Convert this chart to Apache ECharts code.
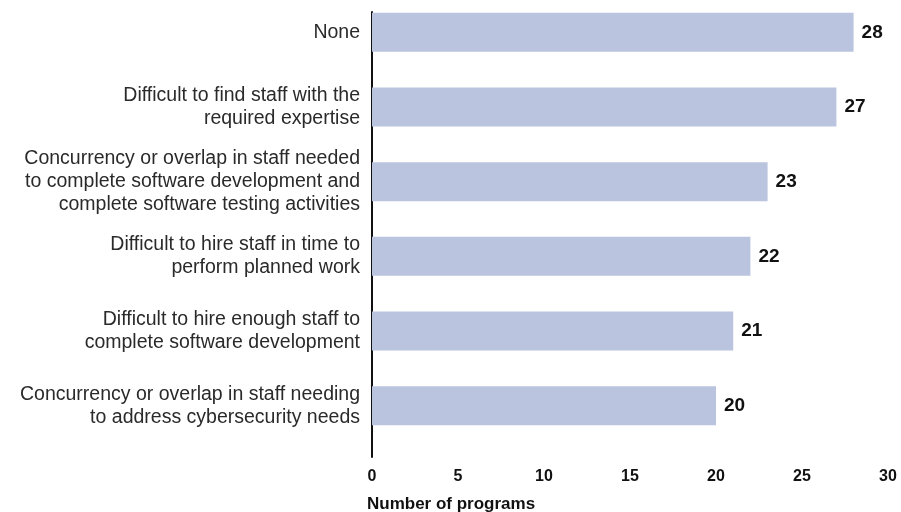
<!DOCTYPE html>
<html>
<head>
<meta charset="utf-8">
<script src="https://cdn.jsdelivr.net/npm/echarts@6/dist/echarts.min.js"></script>
<style>
html,body{margin:0;padding:0;background:#fff;overflow:hidden;}
#wrap{position:relative;width:901px;height:512px;overflow:hidden;}
#chart{position:absolute;left:0;top:-6px;width:901px;height:518px;}
</style>
</head>
<body>
<div id="wrap"><div id="chart"></div></div>
<script>
const categories = [
  "None",
  "Difficult to find staff with the\nrequired expertise",
  "Concurrency or overlap in staff needed\nto complete software development and\ncomplete software testing activities",
  "Difficult to hire staff in time to\nperform planned work",
  "Difficult to hire enough staff to\ncomplete software development",
  "Concurrency or overlap in staff needing\nto address cybersecurity needs"
];
const values = [28, 27, 23, 22, 21, 20];
const xTicks = [0, 5, 10, 15, 20, 25, 30];
const axisTitle = "Number of programs";

const chart = echarts.init(document.getElementById('chart'), null, {renderer: 'canvas'});
const FONT = '"Liberation Sans", Arial, sans-serif';
chart.setOption({
  animation: false,
  backgroundColor: '#ffffff',
  title: {
    text: axisTitle,
    left: 362,
    top: 497,
    textStyle: {fontFamily: FONT, fontSize: 17, fontWeight: 'bold', color: '#111'}
  },
  grid: [
    {left: 372, right: 13, top: 1, height: 448, containLabel: false},
    {left: 372, width: 10, top: 18, bottom: 55, containLabel: false}
  ],
  xAxis: [
    {
      type: 'value', gridIndex: 0,
      min: xTicks[0], max: xTicks[xTicks.length - 1], interval: 5,
      axisLine: {show: false}, axisTick: {show: false}, splitLine: {show: false},
      axisLabel: {margin: 26, fontFamily: FONT, fontSize: 16, fontWeight: 'bold', color: '#111'}
    },
    {type: 'value', gridIndex: 1, show: false}
  ],
  yAxis: [
    {
      type: 'category', gridIndex: 0, data: categories, inverse: true,
      axisLine: {show: false}, axisTick: {show: false},
      axisLabel: {margin: 12, fontFamily: FONT, fontSize: 19.5, color: '#2a2a2a', lineHeight: 23, align: 'right'}
    },
    {
      type: 'value', gridIndex: 1,
      axisLine: {show: true, lineStyle: {color: '#111', width: 2}},
      axisTick: {show: false}, axisLabel: {show: false}, splitLine: {show: false}
    }
  ],
  series: [{
    type: 'bar',
    xAxisIndex: 0, yAxisIndex: 0,
    data: values,
    barWidth: 39,
    itemStyle: {color: '#bac4de'},
    label: {show: true, position: 'right', distance: 8, fontFamily: FONT, fontSize: 19, fontWeight: 'bold', color: '#111'}
  }]
});
</script>
</body>
</html>
